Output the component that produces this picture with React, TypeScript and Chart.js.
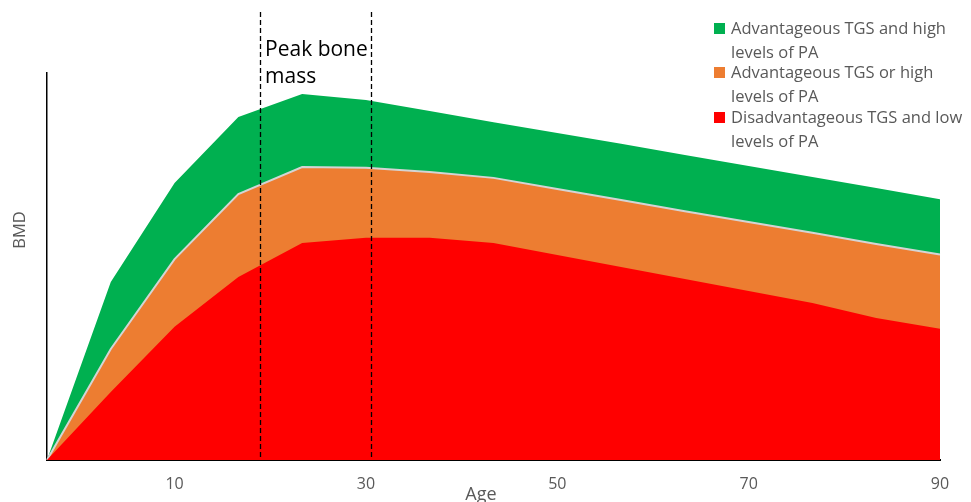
import React, { useEffect, useRef } from "react";
import { Chart, registerables } from "chart.js";

Chart.register(...registerables);

const ages = ["0", "3", "10", "17", "23", "30", "37", "43", "50", "57", "63", "70", "77", "83", "90"];
const shownTicks = ["10", "30", "50", "70", "90"];

const lowSeries = [0, 17.6, 34.4, 47.3, 56.1, 57.4, 57.4, 56.1, 53.0, 49.9, 46.8, 43.7, 40.6, 36.7, 33.9];
const midSeries = [0, 28.7, 51.9, 68.7, 75.7, 75.5, 74.4, 72.9, 70.0, 67.2, 64.3, 61.5, 58.7, 55.8, 53.1];
const highSeries = [0, 46.0, 71.6, 88.6, 94.6, 93.0, 90.2, 87.3, 84.5, 81.7, 78.8, 76.0, 73.1, 70.3, 67.4];

const seriesNames = [
  "Disadvantageous TGS and low levels of PA",
  "Advantageous TGS or high levels of PA",
  "Advantageous TGS and high levels of PA",
];
const legendLines = [
  ["Advantageous TGS and high", "levels of PA"],
  ["Advantageous TGS or high", "levels of PA"],
  ["Disadvantageous TGS and low", "levels of PA"],
];
const legendColors = ["#00B050", "#ED7D31", "#FF0000"];

// Peak bone mass window, in category-index units
const peakWindow = [3.34, 5.08];
const peakText = ["Peak bone", "mass"];

const FONT = '"Open Sans", sans-serif';
const GREY = "#595959";

const overlayPlugin = {
  id: "overlay",
  afterDatasetsDraw(chart: any) {
    const ctx = chart.ctx;
    const xs = chart.scales.x;
    const area = chart.chartArea;
    ctx.save();
    // dashed lines
    ctx.strokeStyle = "#000";
    ctx.lineWidth = 1.3;
    ctx.setLineDash([5, 3]);
    peakWindow.forEach((v) => {
      const px = Math.round(xs.getPixelForValue(v)) + 0.5;
      ctx.beginPath();
      ctx.moveTo(px, 12);
      ctx.lineTo(px, area.bottom);
      ctx.stroke();
    });
    ctx.setLineDash([]);
    // peak text
    ctx.fillStyle = "#000";
    ctx.font = `21px ${FONT}`;
    ctx.textAlign = "left";
    ctx.textBaseline = "middle";
    const tx = xs.getPixelForValue(peakWindow[0]) + 5;
    ctx.fillText(peakText[0], tx, 50);
    ctx.fillText(peakText[1], tx, 77);
    // legend
    ctx.font = `16.5px ${FONT}`;
    const starts = [29, 73, 118];
    legendLines.forEach((lines, i) => {
      ctx.fillStyle = legendColors[i];
      ctx.fillRect(714, starts[i] - 6, 11, 11);
      ctx.fillStyle = GREY;
      lines.forEach((l, j) => {
        ctx.fillText(l, 731, starts[i] + j * 24);
      });
    });
    // axis titles
    ctx.fillStyle = GREY;
    ctx.font = `18px ${FONT}`;
    ctx.textAlign = "center";
    ctx.textBaseline = "alphabetic";
    ctx.fillText("Age", 481, 500);
    ctx.save();
    ctx.translate(25, 230);
    ctx.rotate(-Math.PI / 2);
    ctx.font = `16.5px ${FONT}`;
    ctx.fillText("BMD", 0, 0);
    ctx.restore();
    ctx.restore();
  },
};

export default function App() {
  const ref = useRef<HTMLCanvasElement>(null);
  useEffect(() => {
    if (!ref.current) return;
    const chart = new Chart(ref.current, {
      type: "line",
      data: {
        labels: ages,
        datasets: [
          {
            label: seriesNames[0],
            data: lowSeries,
            backgroundColor: "#FF0000",
            borderColor: "#FF0000",
            borderWidth: 0,
            fill: "origin",
            pointRadius: 0,
            tension: 0,
          },
          {
            label: seriesNames[1],
            data: midSeries,
            backgroundColor: "#ED7D31",
            borderColor: "#D4D4D4",
            borderWidth: 2,
            fill: "origin",
            pointRadius: 0,
            tension: 0,
          },
          {
            label: seriesNames[2],
            data: highSeries,
            backgroundColor: "#00B050",
            borderColor: "#00B050",
            borderWidth: 0,
            fill: "origin",
            pointRadius: 0,
            tension: 0,
          },
        ],
      },
      options: {
        animation: false,
        responsive: false,
        devicePixelRatio: 1,
        layout: { padding: { top: 73, right: 31, left: 0, bottom: 0 } },
        plugins: { legend: { display: false }, tooltip: { enabled: false } },
        scales: {
          x: {
            grid: { display: false, drawTicks: false },
            border: { display: true, color: "#000", width: 2 },
            ticks: {
              autoSkip: false,
              maxRotation: 0,
              padding: 15,
              color: GREY,
              font: { family: FONT, size: 16 },
              callback: (v: any, i: number) => (shownTicks.includes(ages[i]) ? ages[i] : ""),
            },
            afterFit: (s: any) => {
              s.height = 42;
            },
          },
          y: {
            min: 0,
            max: 100,
            grid: { display: false, drawTicks: false },
            border: { display: true, color: "#000", width: 1.5 },
            ticks: { display: false },
            afterFit: (s: any) => {
              s.width = 47;
            },
          },
        },
      },
      plugins: [overlayPlugin],
    });
    return () => chart.destroy();
  }, []);
  return (
    <div style={{ position: "absolute", left: 0, top: 0, width: 971, height: 502 }}>
      <canvas ref={ref} width={971} height={502} style={{ width: 971, height: 502 }} />
    </div>
  );
}
